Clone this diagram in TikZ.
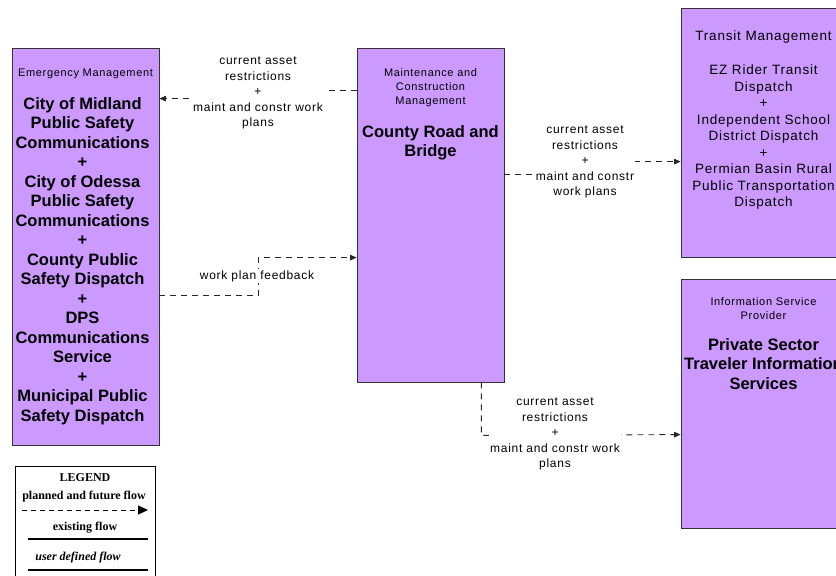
\documentclass[tikz,border=0pt]{standalone}
\usepackage{fontspec}
\setmainfont{Liberation Sans}
\newfontfamily\thinfont[LetterSpace=6]{Liberation Sans}
\newfontfamily\legfont{Liberation Serif}
\usetikzlibrary{positioning,arrows.meta}
\definecolor{archviolet}{RGB}{204,153,255}
\begin{document}
\begin{tikzpicture}[x=1pt,y=-1pt,
  box/.style={draw=black!80,fill=archviolet,line width=0.8pt,inner sep=0pt},
  hdr/.style={font=\thinfont\fontsize{11}{14}\selectfont,align=center,inner sep=0pt},
  big/.style={font=\bfseries\fontsize{16.5}{19.5}\selectfont,align=center,inner sep=0pt},
  lst/.style={font=\thinfont\fontsize{13.5}{16.5}\selectfont,align=center,inner sep=0pt},
  lbl/.style={font=\thinfont\fontsize{12}{15.5}\selectfont,align=center,fill=white,inner sep=1pt},
  flow/.style={draw=black!85,line width=0.9pt,dash pattern=on 6pt off 5pt,-{Triangle[length=6.5pt,width=5.5pt]}},
  legtxt/.style={font=\legfont\bfseries\fontsize{12}{14}\selectfont,inner sep=0pt}]
\useasboundingbox (0,0) rectangle (836,576);
\clip (0,0) rectangle (836,576);
% boxes
\node[box,minimum width=147pt,minimum height=397pt] (em) at (85.5,246.5) {};
\node[box,minimum width=147pt,minimum height=334pt] (mc) at (430.5,215) {};
\node[box,minimum width=165pt,minimum height=249pt] (tm) at (763.5,132.5) {};
\node[box,minimum width=165pt,minimum height=249pt] (isp) at (763.5,403.5) {};
% box texts
\node[hdr,below=21pt of em.north] (emhdr) {Emergency Management};
\node[big,below=18pt of emhdr,xshift=-3pt] (emname) {City of Midland\\Public Safety\\Communications\\+\\City of Odessa\\Public Safety\\Communications\\+\\County Public\\Safety Dispatch\\+\\DPS\\Communications\\Service\\+\\Municipal Public\\Safety Dispatch};
\node[hdr,below=21pt of mc.north] (mchdr) {Maintenance and\\Construction\\Management};
\node[big,below=18pt of mchdr] (mcname) {County Road and\\Bridge};
\node[lst,below=23pt of tm.north] (tmhdr) {Transit Management};
\node[lst,below=21pt of tmhdr] (tmname) {EZ Rider Transit\\Dispatch\\+\\Independent School\\District Dispatch\\+\\Permian Basin Rural\\Public Transportation\\Dispatch};
\node[hdr,below=19pt of isp.north] (isphdr) {Information Service\\Provider};
\node[big,below=18pt of isphdr] (ispname) {Private Sector\\Traveler Information\\Services};
% flows
\draw[flow] ([yshift=-43pt]mc.north west) -- ++(-99,0) -- ++(0,8) -- ([yshift=-51pt]em.north east)
  node[lbl] (lbla) at (258,93) {current asset\\restrictions\\+\\maint and constr work\\plans};
\draw[flow] ([yshift=-248pt]em.north east) -- ++(99,0) -- ++(0,-38) -- ([yshift=-210pt]mc.north west)
  node[lbl] (lblb) at (257,276) {work plan feedback};
\draw[flow] ([yshift=-127pt]mc.north east) -- ++(81,0) -- ++(0,-13) -- ([yshift=-154pt]tm.north west)
  node[lbl] (lblc) at (585,162) {current asset\\restrictions\\+\\maint and constr\\work plans};
\draw[flow] ([xshift=-23pt]mc.south east) -- ++(0,53) -- ([yshift=-156pt]isp.north west)
  node[lbl] (lbld) at (555,434) {current asset\\restrictions\\+\\maint and constr work\\plans};
% legend
\node[draw,line width=0.8pt,minimum width=140pt,minimum height=118pt,inner sep=0pt] (lg) at (85,525) {};
\node[legtxt] (lgtitle) at (85,478) {LEGEND};
\node[legtxt] (lgplan) at (84,497) {planned and future flow};
\coordinate (lgplana) at (22,510);
\coordinate (lgplanb) at (148,510);
\draw[line width=1pt,dash pattern=on 5pt off 4pt,-{Triangle[length=10pt,width=9pt]}] (lgplana) -- (lgplanb);
\node[legtxt] (lgexist) at (85,528) {existing flow};
\coordinate (lgexista) at (28,539);
\coordinate (lgexistb) at (148,539);
\draw[line width=1.3pt] (lgexista) -- (lgexistb);
\node[legtxt,font=\legfont\bfseries\itshape\fontsize{12}{14}\selectfont] (lguser) at (78,558) {user defined flow};
\coordinate (lgusera) at (28,570);
\coordinate (lguserb) at (148,570);
\draw[line width=1.3pt] (lgusera) -- (lguserb);
\end{tikzpicture}
\end{document}
